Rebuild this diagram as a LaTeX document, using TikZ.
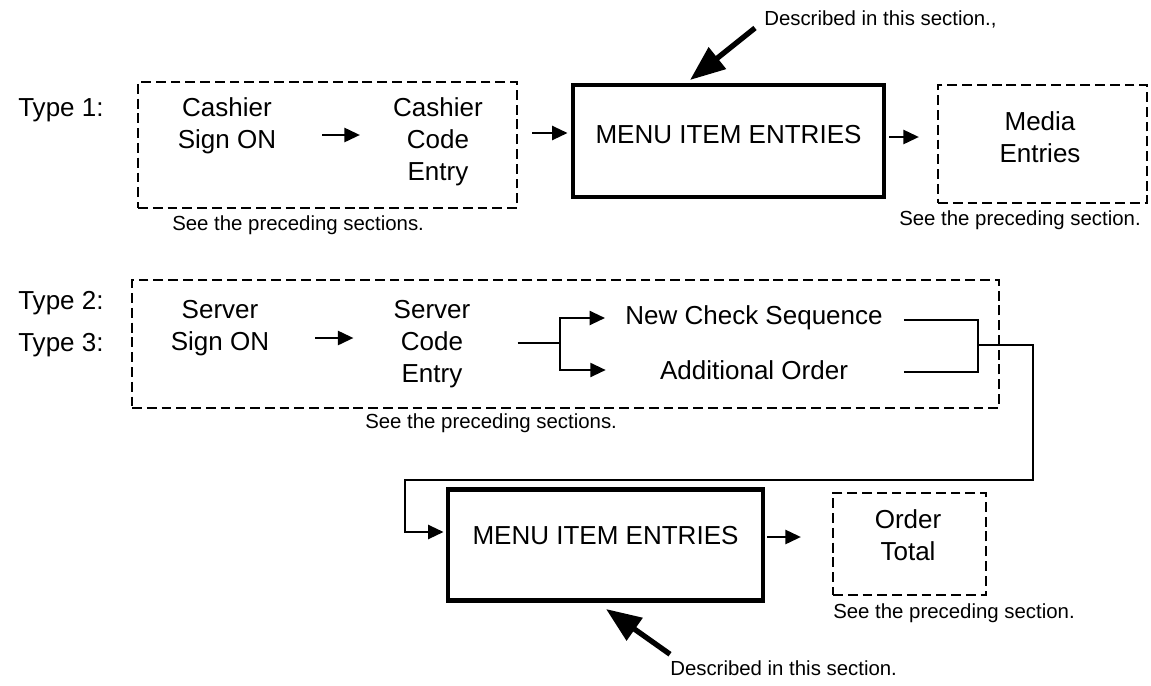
\documentclass[tikz,border=0pt]{standalone}
\usepackage{fontspec}
\setmainfont{Liberation Sans}
\usetikzlibrary{arrows.meta, calc, positioning}

\begin{document}
\begin{tikzpicture}[x = 0.025cm, y = -0.025cm,
		txt/.style = {align = center, inner sep = 0pt, font = \fontsize{18.5}{22.7}\selectfont},
		note/.style = {inner sep = 0pt, anchor = west, font = \fontsize{14.5}{17}\selectfont},
		size/.style 2 args = {minimum width = #1*0.025cm, minimum height = #2*0.025cm, inner sep = 0pt},
		dbox/.style = {draw, line width = 1.6pt, dash pattern = on 7pt off 3.5pt},
		mbox/.style = {draw, line width = 3.5pt},
		line/.style = {line width = 1.6pt},
		arr/.style = {line width = 1.6pt, -{Triangle[length = 11pt, width = 10pt]}},
		pointer/.style = {line width = 3.8pt, -{Triangle[length = 25pt, width = 19pt]}}]
		\useasboundingbox (0,0) rectangle (1151,685);
		\foreach \k/\y in {1/110, 2/303, 3/345}{
			\node[txt, anchor = west] (type\k) at (18,\y) {Type \k:};
		}
		\node[dbox, size = {379}{126}] (cashBox) at (327.5,145) {};
		\node[txt] (cashA) at (227,126) {Cashier\\Sign ON};
		\node[txt] (cashB) at (438,142) {Cashier\\Code\\Entry};
		\node[mbox, size = {311}{112}, txt, text height = 0.466cm, text depth = 0.35cm] (menuA) at (728.5,141) {MENU ITEM ENTRIES};
		\node[dbox, size = {209}{118}] (mediaBox) at (1042.5,144) {};
		\node[txt] (media) at (1040,137) {Media\\Entries};
		\node[note] (seeA) at (172,225) {See the preceding sections.};
		\node[note] (seeB) at (899,220) {See the preceding section.};
		\node[note] (descA) at (764,19) {Described in this section.,};
		\coordinate (tipA) at (690,80);
		\draw[arr] ($(cashA.east)+(46,9)$) -- ($(cashB.west)+(-33,-7)$);
		\draw[arr] ($(cashBox.east)+(14,-12)$) -- ($(menuA.west)+(-3,-8)$);
		\draw[arr] ($(menuA.east)+(3,-4)$) -- ($(mediaBox.west)+(-18,-7)$);
		\draw[pointer] ($(descA.south west)+(-9,0)$) -- (tipA);

		\node[dbox, size = {867}{128}] (servBox) at (565.5,344) {};
		\node[txt] (servA) at (220,328) {Server\\Sign ON};
		\node[txt] (servB) at (432,344) {Server\\Code\\Entry};
		\node[txt] (newChk) at (754,318) {New Check Sequence};
		\node[txt] (addOrd) at (754,370) {Additional Order};
		\node[note] (seeC) at (365,423) {See the preceding sections.};
		\coordinate (fork) at (560,343);
		\coordinate (merge) at (978,345);
		\coordinate (bendA) at (1033,480);
		\coordinate (bendB) at (405,480);
		\draw[arr] ($(servA.east)+(46,10)$) -- ($(servB.west)+(-40,-6)$);
		\draw[line] ($(servB.east)+(47,-1)$) -- (fork);
		\draw[arr] (fork) |- ($(newChk.west)+(-20,0)$);
		\draw[arr] (fork) |- ($(addOrd.west)+(-54,0)$);
		\draw[line] ($(newChk.east)+(21,2)$) -| (merge);
		\draw[line] ($(newChk.east |- addOrd.east)+(21,2)$) -| (merge);

		\node[mbox, size = {315}{111}, txt, text height = 0.466cm, text depth = 0.5cm] (menuB) at (605.5,545) {MENU ITEM ENTRIES};
		\node[dbox, size = {153}{102}] (orderBox) at (909.5,544) {};
		\node[txt] (order) at (908,535) {Order\\Total};
		\node[note] (seeD) at (833,613) {See the preceding section.};
		\node[note] (descB) at (670,668) {Described in this section.};
		\coordinate (tipB) at (606,609);
		\draw[arr] (merge) -| (bendA) -- (bendB) |- ($(menuB.west)+(-2,-13)$);
		\draw[arr] ($(menuB.east)+(2,-8)$) -- ($(orderBox.west)+(-31,-7)$);
		\draw[pointer] ($(descB.north west)+(0,-6)$) -- (tipB);
	\end{tikzpicture}
\end{document}
